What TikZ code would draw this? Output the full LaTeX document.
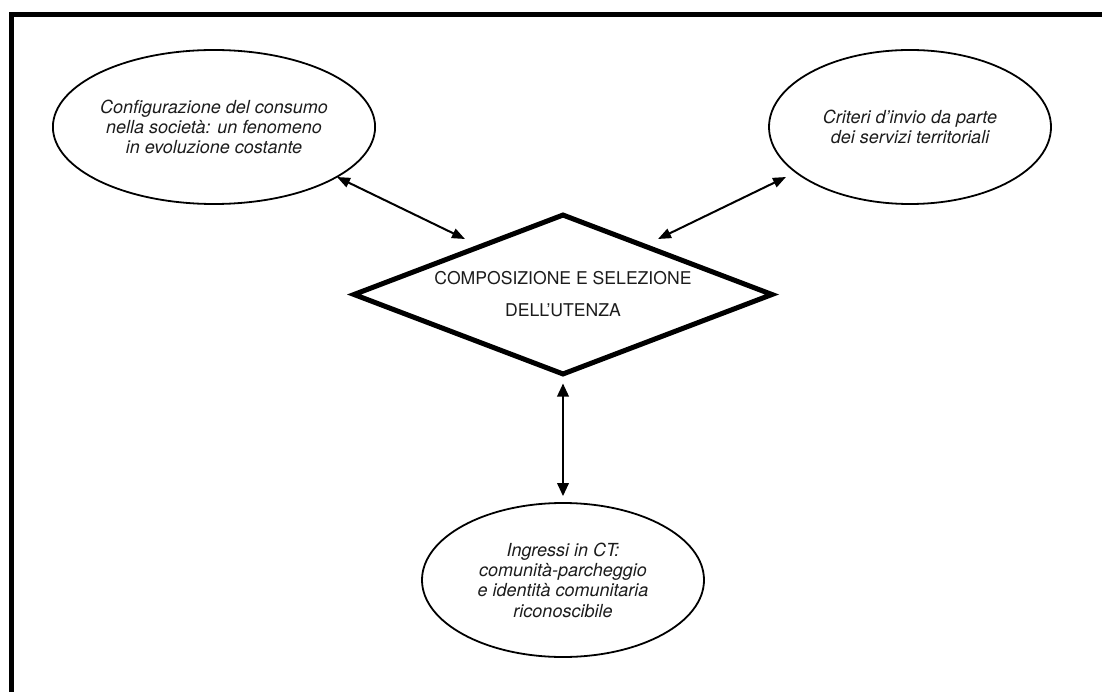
\documentclass[tikz,border=0pt]{standalone}
\usepackage{fontspec}
\setmainfont{TeX Gyre Heros}
\usetikzlibrary{shapes.geometric,arrows.meta}
\definecolor{ink}{HTML}{1C1C1C}
\tikzset{
  topic/.style={ellipse, draw=black, line width=1.8pt, minimum width=282pt,
    minimum height=154pt, inner sep=0pt, align=center, text=ink,
    font=\fontsize{18}{20.3}\selectfont\itshape},
  hub/.style={diamond, draw=black, line width=5pt, minimum width=420pt,
    minimum height=161pt, aspect=2.6, inner sep=0pt, align=center, text=ink,
    font=\fontsize{17.6}{28}\selectfont},
  link/.style={line width=2pt, {Triangle[length=13pt,width=10pt]}-{Triangle[length=13pt,width=10pt]}},
  vlink/.style={line width=2pt, {Triangle[length=13pt,width=11.5pt]}-{Triangle[length=13pt,width=11.5pt]}}
}
\begin{document}
\begin{tikzpicture}[x=1pt,y=-1pt]
  \useasboundingbox (0,0) rectangle (1102,692);
  \clip (0,0) rectangle (1102,692);
  % outer frame, running past the right and bottom edges
  \draw[line width=5pt] (11,15) rectangle (1200,800);

  \node[hub] (dia) at (563,294.5) {\raisebox{-11pt}{\begin{tabular}{@{}c@{}}COMPOSIZIONE E SELEZIONE\\[4pt]DELL’UTENZA\end{tabular}}};

  \node[topic] (e1) at (214,127) {Configurazione del consumo\\nella società: un fenomeno\\in evoluzione costante};
  \node[topic] (e2) at (910,127) {Criteri d’invio da parte\\dei servizi territoriali};
  \node[topic] (e3) at (563,580) {Ingressi in CT:\\comunità-parcheggio\\e identità comunitaria\\riconoscibile};

  \draw[link] ([shift={(123,50)}]e1.center) -- ([shift={(-98,-55.5)}]dia.center);
  \draw[link] ([shift={(-124,50)}]e2.center) -- ([shift={(95,-55.5)}]dia.center);
  \draw[vlink, shorten <=6pt, shorten >=6pt] (dia.south) -- (e3.north);
\end{tikzpicture}
\end{document}
